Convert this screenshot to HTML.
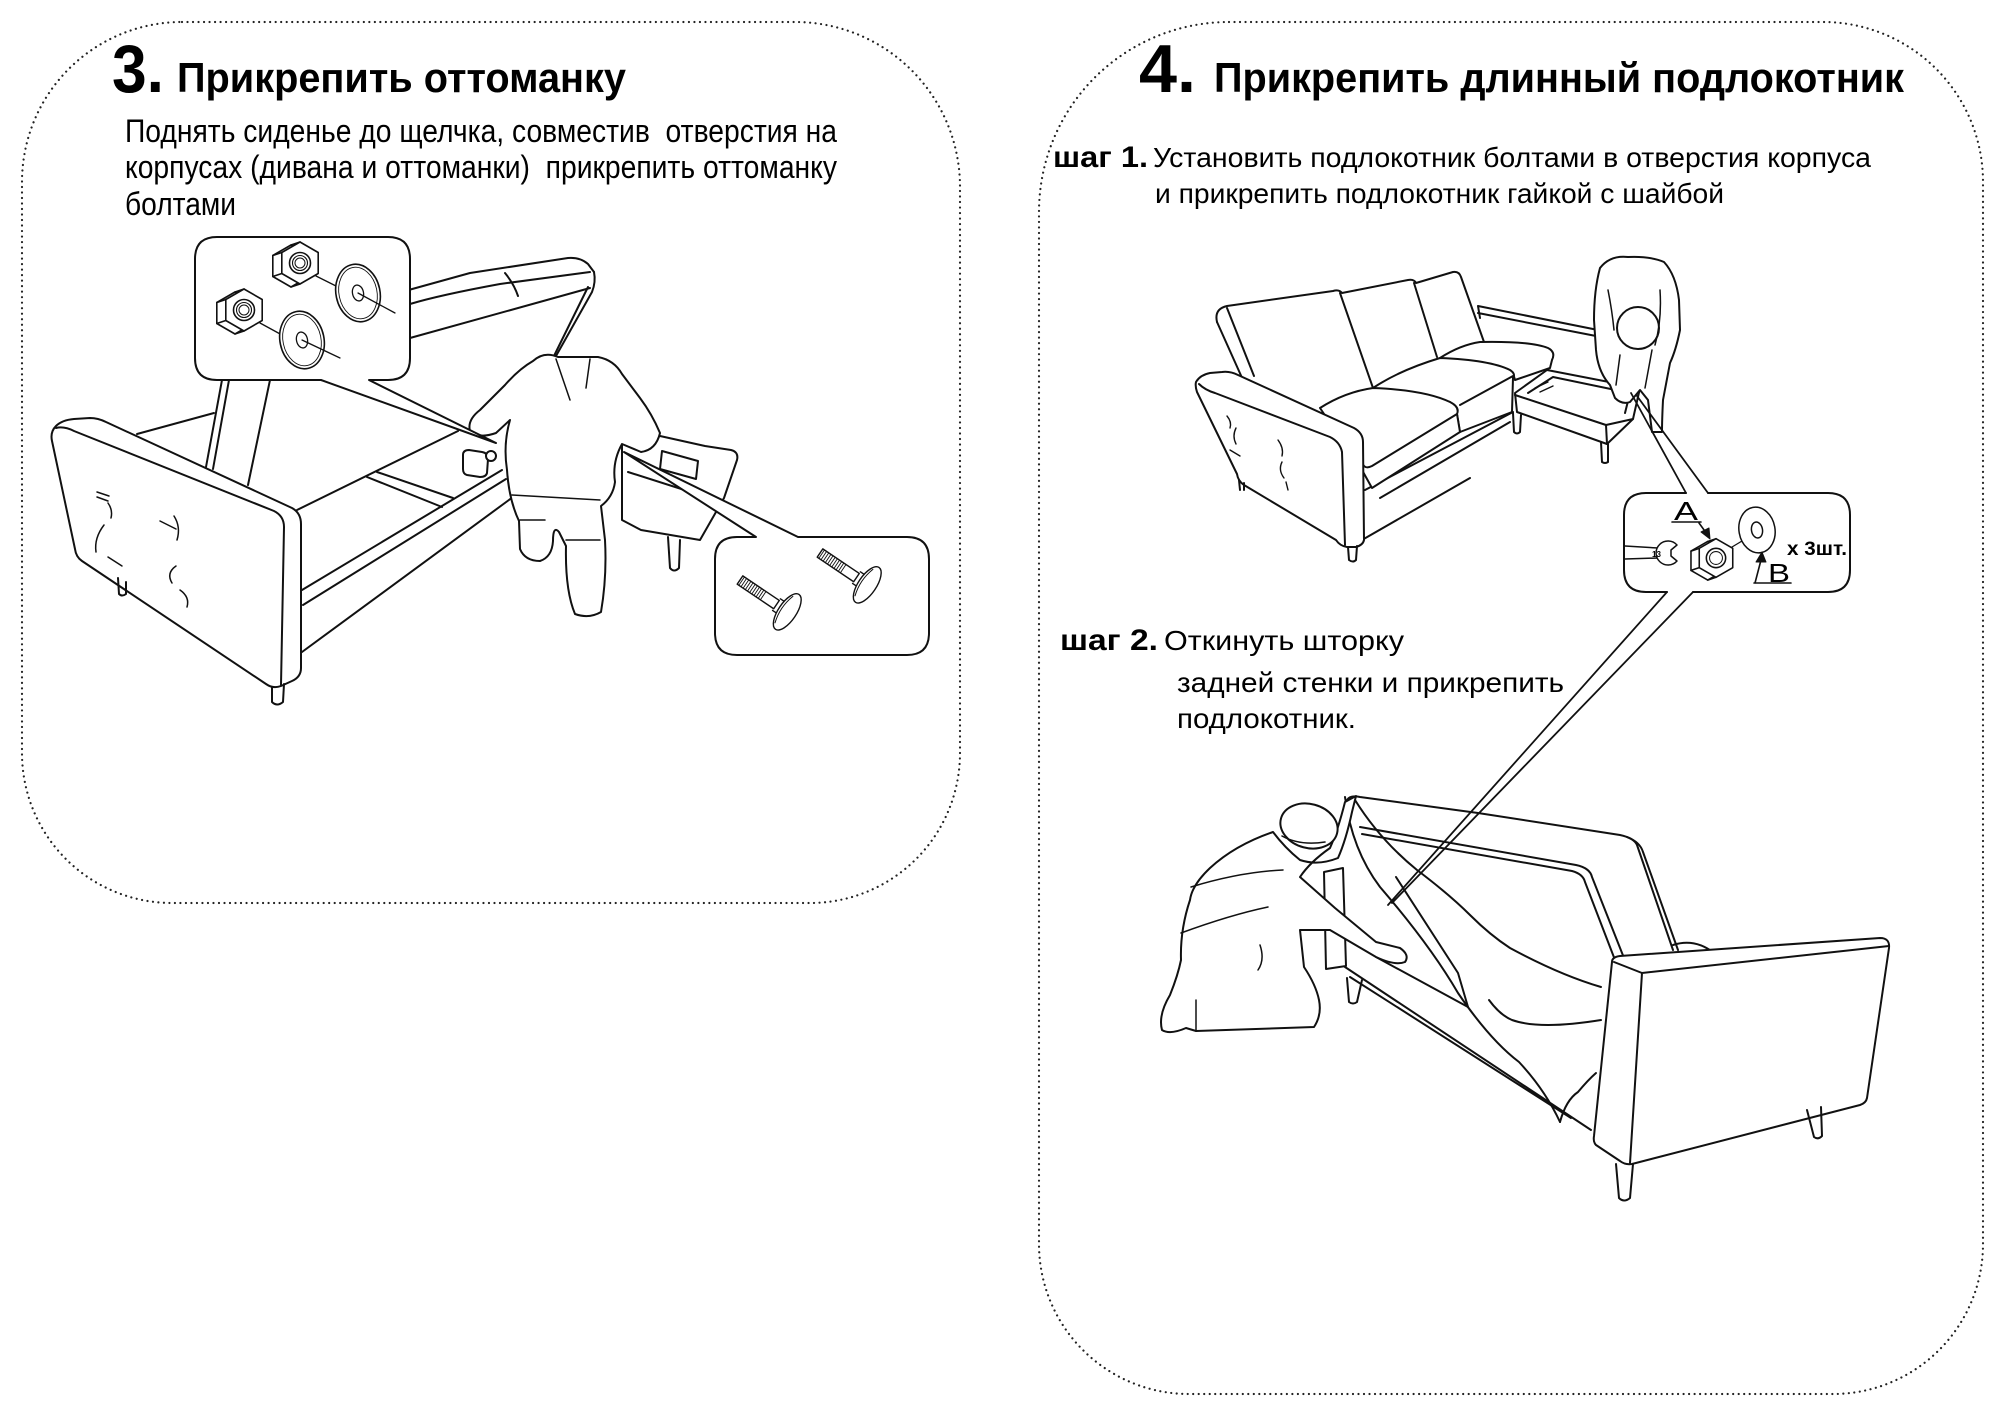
<!DOCTYPE html>
<html><head><meta charset="utf-8">
<style>
html,body{margin:0;padding:0;background:#fff;}
svg{display:block;}
text{font-family:"Liberation Sans","Noto Sans CJK SC",sans-serif;fill:#000;white-space:pre;}
.b{font-weight:bold;}
</style></head><body>
<svg width="2000" height="1414" viewBox="0 0 2000 1414" xmlns="http://www.w3.org/2000/svg">
<rect width="2000" height="1414" fill="#fff"/>

<!-- dotted panels -->
<g fill="none" stroke="#222" stroke-width="2.2" stroke-linecap="round" stroke-dasharray="0.01 5.5">
 <path d="M182,22 H795 A165,165 0 0 1 960,187 V753 A150,150 0 0 1 810,903 H172 A150,150 0 0 1 22,753 V182 A160,160 0 0 1 182,22 Z"/>
 <path d="M1229,22 H1823 A160,160 0 0 1 1983,182 V1244 A150,150 0 0 1 1833,1394 H1189 A150,150 0 0 1 1039,1244 V212 A190,190 0 0 1 1229,22 Z"/>
</g>

<!-- texts left -->
<text class="b" x="112" y="92" font-size="68" textLength="52" lengthAdjust="spacingAndGlyphs">3.</text>
<text class="b" x="177" y="92" font-size="42" textLength="449" lengthAdjust="spacingAndGlyphs">Прикрепить оттоманку</text>
<text x="125" y="142" font-size="32" textLength="712" lengthAdjust="spacingAndGlyphs">Поднять сиденье до щелчка, совместив  отверстия на</text>
<text x="125" y="178" font-size="32" textLength="712" lengthAdjust="spacingAndGlyphs">корпусах (дивана и оттоманки)  прикрепить оттоманку</text>
<text x="125" y="215" font-size="32" textLength="111" lengthAdjust="spacingAndGlyphs">болтами</text>

<!-- texts right -->
<text class="b" x="1139" y="92" font-size="68" textLength="57" lengthAdjust="spacingAndGlyphs">4.</text>
<text class="b" x="1214" y="92" font-size="42" textLength="690" lengthAdjust="spacingAndGlyphs">Прикрепить длинный подлокотник</text>
<text class="b" x="1053" y="167" font-size="30" textLength="95" lengthAdjust="spacingAndGlyphs">шаг 1.</text>
<text x="1153" y="167" font-size="28" textLength="718" lengthAdjust="spacingAndGlyphs">Установить подлокотник болтами в отверстия корпуса</text>
<text x="1155" y="203" font-size="28" textLength="569" lengthAdjust="spacingAndGlyphs">и прикрепить подлокотник гайкой с шайбой</text>
<text class="b" x="1060" y="650" font-size="30" textLength="98" lengthAdjust="spacingAndGlyphs">шаг 2.</text>
<text x="1164" y="650" font-size="28" textLength="240" lengthAdjust="spacingAndGlyphs">Откинуть шторку</text>
<text x="1177" y="692" font-size="28" textLength="387" lengthAdjust="spacingAndGlyphs">задней стенки и прикрепить</text>
<text x="1177" y="728" font-size="28" textLength="179" lengthAdjust="spacingAndGlyphs">подлокотник.</text>

<!-- ============ LEFT ILLUSTRATION ============ -->
<g fill="none" stroke="#111" stroke-width="2" stroke-linejoin="round" stroke-linecap="round">
 <!-- raised seat board -->
 <path d="M405,291 L470,273 L568,258 Q580,257 588,264 L594,272"/>
 <path d="M410,304 Q440,295 500,284 L590,272"/>
 <path d="M505,273 Q514,284 518,296"/>
 <path d="M410,338 L590,288"/>
 <path d="M594,272 Q596,282 592,292 L556,356"/>
 <path d="M588,287 L552,360"/>
 <!-- posts -->
 <path d="M222,380 L206,467 M229,380 L213,469 M270,380 L248,485"/>
 <!-- base -->
 <path d="M137,434 L214,413"/>
 <path d="M297,510 L458,431"/>
 <path d="M367,477 L442,507 M377,472 L453,498"/>
 <path d="M302,590 L502,470 M303,605 L506,479"/>
 <path d="M302,652 L513,497"/>
 <!-- armrest -->
 <path fill="#fff" d="M56,426 Q62,420 74,419 L90,418 Q98,418 106,422 L292,508 Q301,513 301,524 L301,668 Q301,677 292,681 L281,686 Q273,689 266,684 L82,561 Q76,557 75,549 L52,441 Q50,432 56,426 Z"/>
 <path d="M56,428 Q64,426 74,431 L274,511 Q284,516 284,527 L281,685"/>
 <g stroke-width="1.5">
  <path d="M97,492 L109,496 M97,497 L108,501"/>
  <path d="M108,503 Q113,510 111,518"/>
  <path d="M104,525 Q94,538 96,552 M108,557 L122,566"/>
  <path d="M160,521 L176,529 M174,516 Q181,527 177,540"/>
  <path d="M176,566 Q166,573 172,583 M180,590 Q190,597 187,607"/>
 </g>
 <path d="M118,578 L119,594 Q122,597 126,594 L126,582"/>
 <path d="M272,687 L272,702 Q277,707 283,702 L284,684"/>
 <!-- ottoman -->
 <path fill="#fff" d="M622,444 L660,436 L705,446 L731,450 Q739,452 737,460 L724,498 L700,540 L641,530 L622,520 Z"/>
 <path d="M662,451 L698,461 L696,479 L660,469 Z"/>
 <path d="M628,472 L722,502"/>
 <path d="M668,537 L670,568 Q674,573 679,568 L680,540"/>
 <!-- person -->
 <path fill="#fff" d="M533,361 Q544,351 558,357 L598,357 Q614,360 622,374 L640,398 Q652,414 660,433 Q656,450 641,452 L622,444 Q612,462 615,482 Q613,497 601,506 L605,540 Q607,577 601,612 Q589,619 575,614 Q565,590 566,546 L559,532 Q553,525 553,541 Q552,557 540,561 Q525,561 520,549 L519,521 Q509,500 507,470 Q503,444 510,420 L496,433 Q479,439 470,431 Q467,420 480,410 L505,385 Q519,369 533,361 Z"/>
 <path d="M556,359 L570,400 M590,359 L586,388 M512,495 L600,500 M520,520 L545,520 M566,540 L600,540" stroke-width="1.5"/>
 <path fill="#fff" d="M463,455 Q463,450 469,450 L482,452 Q488,453 488,459 L487,473 Q486,477 480,477 L467,475 Q463,474 463,469 Z"/>
 <circle cx="491" cy="456" r="5" fill="#fff"/>

 <!-- callout nuts/washers -->
 <path fill="#fff" d="M217,237 H388 Q410,237 410,259 V358 Q410,380 388,380 H369 L496,443 L321,380 H217 Q195,380 195,358 V259 Q195,237 217,237 Z"/>
 <g stroke-width="1.6">
  <line x1="316" y1="276" x2="338" y2="287" stroke-width="1.3"/>
  <g transform="translate(300,263)">
   <polygon fill="#fff" points="-9,-18 9.2,-7.5 9.2,13.5 -9,24 -27.2,13.5 -27.2,-7.5"/>
   <path d="M0,-21 L-9,-18 M-18.2,-10.5 L-27.2,-7.5 M-18.2,10.5 L-27.2,13.5 M0,21 L-9,24"/>
   <polygon fill="#fff" points="0,-21 18.2,-10.5 18.2,10.5 0,21 -18.2,10.5 -18.2,-10.5"/>
   <circle r="10.5"/><circle r="7.5" stroke-width="1.1"/><circle r="5" stroke-width="1"/>
  </g>
  <g transform="translate(358,293) rotate(-12)">
   <ellipse rx="22" ry="29" fill="#fff"/>
   <ellipse rx="19" ry="26" stroke-width="0.9"/>
   <ellipse rx="5.5" ry="8" stroke-width="1.3"/>
  </g>
  <line x1="358" y1="293" x2="395" y2="313" stroke-width="1.3"/>
  <line x1="260" y1="323" x2="282" y2="335" stroke-width="1.3"/>
  <g transform="translate(244,310)">
   <polygon fill="#fff" points="-9,-18 9.2,-7.5 9.2,13.5 -9,24 -27.2,13.5 -27.2,-7.5"/>
   <path d="M0,-21 L-9,-18 M-18.2,-10.5 L-27.2,-7.5 M-18.2,10.5 L-27.2,13.5 M0,21 L-9,24"/>
   <polygon fill="#fff" points="0,-21 18.2,-10.5 18.2,10.5 0,21 -18.2,10.5 -18.2,-10.5"/>
   <circle r="10.5"/><circle r="7.5" stroke-width="1.1"/><circle r="5" stroke-width="1"/>
  </g>
  <g transform="translate(302,340) rotate(-12)">
   <ellipse rx="22" ry="29" fill="#fff"/>
   <ellipse rx="19" ry="26" stroke-width="0.9"/>
   <ellipse rx="5.5" ry="8" stroke-width="1.3"/>
  </g>
  <line x1="302" y1="340" x2="340" y2="358" stroke-width="1.3"/>
 </g>

 <!-- callout bolts -->
 <path fill="#fff" d="M737,537 H756 L624,452 L798,537 H907 Q929,537 929,559 V633 Q929,655 907,655 H737 Q715,655 715,633 V559 Q715,537 737,537 Z"/>
 <g stroke-width="1.4">
  <g transform="translate(740,580) rotate(34)">
   <path d="M0,-5 L44,-5 L44,5 L0,5 Z" fill="#fff"/>
   <path d="M2,-5 L2,5 M4.6,-5 L4.6,5 M7.2,-5 L7.2,5 M9.8,-5 L9.8,5 M12.4,-5 L12.4,5 M15,-5 L15,5 M17.6,-5 L17.6,5 M20.2,-5 L20.2,5 M22.8,-5 L22.8,5 M25.4,-5 L25.4,5 M28,-5 L28,5" stroke-width="0.9"/>
   <path d="M44,-7 L51,-7 L51,7 L44,7"/>
   <ellipse cx="57" cy="0" rx="9" ry="21" fill="#fff"/>
   <path d="M53,-16 Q48,0 53,16" stroke-width="1"/>
  </g>
  <g transform="translate(820,553) rotate(34)">
   <path d="M0,-5 L44,-5 L44,5 L0,5 Z" fill="#fff"/>
   <path d="M2,-5 L2,5 M4.6,-5 L4.6,5 M7.2,-5 L7.2,5 M9.8,-5 L9.8,5 M12.4,-5 L12.4,5 M15,-5 L15,5 M17.6,-5 L17.6,5 M20.2,-5 L20.2,5 M22.8,-5 L22.8,5 M25.4,-5 L25.4,5 M28,-5 L28,5" stroke-width="0.9"/>
   <path d="M44,-7 L51,-7 L51,7 L44,7"/>
   <ellipse cx="57" cy="0" rx="9" ry="21" fill="#fff"/>
   <path d="M53,-16 Q48,0 53,16" stroke-width="1"/>
  </g>
 </g>
</g>

<!-- ============ RIGHT TOP ILLUSTRATION ============ -->
<g fill="none" stroke="#111" stroke-width="2" stroke-linejoin="round" stroke-linecap="round">
 <!-- back -->
 <path d="M1217,322 Q1214,309 1227,306 L1333,291 Q1339,289 1342,293 L1408,280 Q1414,279 1416,283 L1453,272 Q1459,271 1461,277 L1484,342"/>
 <path d="M1217,322 L1243,380 M1227,308 L1254,376 M1340,293 L1373,388 M1414,283 L1437,357"/>
 <path d="M1478,306 L1598,330 M1478,313 L1596,336 M1478,306 L1480,318"/>
 <!-- base -->
 <path d="M1365,490 L1513,412 M1380,498 L1510,422 M1362,540 L1470,478"/>
 <!-- seats -->
 <path fill="#fff" d="M1440,358 Q1460,345 1480,342 Q1530,341 1548,348 Q1556,352 1552,360 L1550,368 L1515,380 L1513,373 Z"/>
 <path fill="#fff" d="M1373,388 Q1400,370 1440,358 Q1490,360 1510,370 Q1516,374 1513,378 L1512,412 L1460,432 L1457,414 L1450,402 Z"/>
 <path fill="#fff" d="M1320,408 Q1345,392 1373,388 Q1425,390 1450,402 Q1460,407 1457,414 L1460,432 L1372,488 L1362,470 Z"/>
 <path d="M1457,414 L1372,466 Q1364,470 1362,462"/>
 <path d="M1460,405 L1513,376"/>
 <!-- armrest -->
 <path fill="#fff" d="M1196,382 Q1200,375 1210,373 L1222,372 Q1230,371 1238,375 L1354,428 Q1363,433 1363,442 L1364,540 Q1363,545 1356,547 L1347,547 Q1340,546 1336,540 L1244,485 Q1238,481 1237,474 L1197,392 Q1195,386 1196,382 Z"/>
 <path d="M1199,384 Q1205,390 1215,393 L1330,437 Q1340,442 1342,452 L1345,545"/>
 <g stroke-width="1.4">
  <path d="M1227,416 Q1232,422 1230,428 M1236,428 Q1232,436 1236,444 M1230,450 L1240,456"/>
  <path d="M1278,440 Q1284,448 1282,456 M1282,462 Q1278,470 1284,478 M1286,482 L1288,490"/>
 </g>
 <path d="M1239,480 L1240,490 M1244,483 L1244,490"/>
 <path d="M1348,547 L1349,560 Q1353,563 1356,560 L1357,546"/>
 <!-- chaise -->
 <path fill="#fff" d="M1515,393 L1547,370 L1640,388 L1633,419 L1607,444 L1517,412 Z"/>
 <path d="M1528,393 L1553,377 L1630,393 L1625,413"/>
 <path d="M1515,395 L1606,425 L1607,444 M1606,425 L1633,419"/>
 <path d="M1535,388 L1548,382 M1540,392 L1553,386" stroke-width="1.4"/>
 <path d="M1513,413 L1514,432 Q1517,435 1520,432 L1521,415 M1601,442 L1602,462 Q1605,464 1608,462 L1608,444"/>
 <!-- person -->
 <path fill="#fff" d="M1600,268 Q1610,255 1628,257 Q1650,256 1664,262 Q1676,275 1679,300 L1680,330 Q1676,350 1670,363 L1663,400 Q1662,420 1662,432 L1652,432 L1648,400 L1640,390 L1630,402 Q1622,405 1615,398 L1610,385 Q1598,372 1596,350 L1594,320 Q1594,290 1600,268 Z"/>
 <circle cx="1638" cy="328" r="21" fill="#fff"/>
 <path d="M1608,290 Q1612,310 1614,330 M1660,290 Q1662,320 1655,345 M1620,355 L1616,385 M1652,350 L1645,388" stroke-width="1.5"/>

 <!-- inset -->
 <rect x="1624" y="493" width="226" height="99" rx="22" fill="#fff" stroke="none"/>
 <path d="M1646,493 H1686 M1708,493 H1828 Q1850,493 1850,515 V570 Q1850,592 1828,592 H1693 M1667,592 H1646 Q1624,592 1624,570 V515 Q1624,493 1646,493"/>
 <path d="M1686,493 L1631,393 M1708,493 L1637,396" stroke-width="1.8"/>
 <path d="M1667,592 L1388,905 M1693,592 L1392,903" stroke-width="1.8"/>
 <!-- wrench -->
 <path d="M1625,546 L1658,548 M1625,559 L1658,558" stroke-width="1.5"/>
 <path d="M1677,545 A12,12 0 1 0 1677,561 L1671,556 L1671,550 Z" fill="#fff" stroke-width="1.5"/>
 <!-- nut -->
 <g transform="translate(1716,558) scale(0.92)" stroke-width="1.7">
  <polygon fill="#fff" points="-9,-18 9.2,-7.5 9.2,13.5 -9,24 -27.2,13.5 -27.2,-7.5"/>
  <path d="M0,-21 L-9,-18 M-18.2,-10.5 L-27.2,-7.5 M-18.2,10.5 L-27.2,13.5 M0,21 L-9,24"/>
  <polygon fill="#fff" points="0,-21 18.2,-10.5 18.2,10.5 0,21 -18.2,10.5 -18.2,-10.5"/>
  <circle r="10.5"/><circle r="7" stroke-width="1.1"/>
 </g>
 <line x1="1732" y1="547" x2="1752" y2="535" stroke-width="1.3"/>
 <g transform="translate(1757,530) rotate(-10)" stroke-width="1.5">
  <ellipse rx="18" ry="23" fill="#fff"/>
  <ellipse rx="5.5" ry="8"/>
 </g>
 <!-- labels arrows -->
 <path d="M1672,522 L1701,522 M1699,523 L1707,534" stroke-width="1.6"/>
 <polygon points="1710,539 1701,532 1709,528" fill="#111" stroke-width="1"/>
 <path d="M1754,583 L1791,583 M1755,583 L1761,560" stroke-width="1.6"/>
 <polygon points="1762,552 1756,562 1766,562" fill="#111" stroke-width="1"/>
</g>
<text x="1674" y="520" font-size="26" textLength="24" lengthAdjust="spacingAndGlyphs">A</text>
<text x="1768" y="582" font-size="26" textLength="22" lengthAdjust="spacingAndGlyphs">B</text>
<text class="b" x="1787" y="555" font-size="19" textLength="60" lengthAdjust="spacingAndGlyphs">x 3шт.</text>
<text class="b" x="1652" y="557" font-size="8">13</text>

<!-- ============ RIGHT BOTTOM ILLUSTRATION ============ -->
<g fill="none" stroke="#111" stroke-width="2" stroke-linejoin="round" stroke-linecap="round">
 <!-- sofa back -->
 <path d="M1347,800 Q1350,795 1360,797 L1478,813 L1620,835 Q1634,838 1637,845 L1673,950"/>
 <path d="M1627,837 Q1640,842 1643,852 L1678,950"/>
 <path d="M1360,827 L1576,865 Q1590,868 1592,877 L1624,958"/>
 <path d="M1362,834 L1572,871 Q1583,874 1585,882 L1615,960"/>
 <!-- lower frame -->
 <path d="M1345,967 L1591,1130 M1350,977 L1571,1118 M1376,957 L1468,1007"/>
 <path d="M1347,978 L1349,1002 Q1353,1005 1357,1002 L1362,980"/>
 <!-- seat cushion peek -->
 <path d="M1673,945 Q1695,938 1714,953"/>
 <!-- armrest -->
 <path fill="#fff" d="M1612,962 Q1612,957 1620,956 L1880,938 Q1890,938 1889,948 L1867,1098 Q1866,1103 1860,1105 L1632,1164 Q1625,1165 1620,1161 L1596,1145 Q1593,1142 1594,1136 Z"/>
 <path d="M1614,962 L1642,973 L1630,1163 M1642,973 L1889,946"/>
 <path d="M1616,1164 L1619,1198 Q1624,1203 1630,1198 L1633,1164"/>
 <path d="M1807,1110 L1814,1137 Q1818,1140 1822,1136 L1821,1107"/>
 <!-- cloth -->
 <path d="M1345,797 Q1352,850 1380,887 Q1430,945 1458,993 Q1490,1040 1519,1062 Q1545,1090 1560,1122"/>
 <path d="M1355,800 Q1380,840 1417,870 Q1450,895 1470,915 Q1490,935 1510,948 Q1560,975 1601,987"/>
 <path d="M1396,877 Q1430,930 1458,973 L1468,1007"/>
 <path d="M1489,1000 Q1500,1015 1512,1020 Q1540,1030 1601,1020"/>
 <path d="M1560,1122 Q1566,1100 1578,1092 Q1588,1080 1596,1073"/>
 <!-- board -->
 <path fill="#fff" d="M1324,872 L1343,868 L1346,966 L1326,969 Z"/>
 <!-- person -->
 <path fill="#fff" d="M1273,832 Q1235,845 1210,868 Q1192,885 1190,900 Q1180,930 1181,960 Q1178,975 1170,995 Q1158,1015 1162,1030 Q1170,1035 1186,1028 L1196,1031 L1314,1027 Q1322,1015 1319,1000 Q1316,985 1304,967 L1300,930 L1330,930 L1376,957 Q1395,966 1405,962 Q1410,955 1400,948 L1376,942 L1335,908 L1300,877 Q1310,862 1330,848 Q1338,830 1345,802 L1356,796 L1352,812 Q1346,840 1338,858 Q1318,866 1300,860 Q1285,848 1273,832 Z"/>
 <ellipse cx="1309" cy="826" rx="29" ry="22" transform="rotate(15 1309 826)" fill="#fff"/>
 <path d="M1282,836 Q1300,846 1325,842 M1191,887 Q1240,872 1283,870 M1181,933 Q1230,915 1268,907 M1196,1031 L1196,1000 M1260,945 Q1265,960 1258,970" stroke-width="1.5"/>
</g>
</svg>
</body></html>
